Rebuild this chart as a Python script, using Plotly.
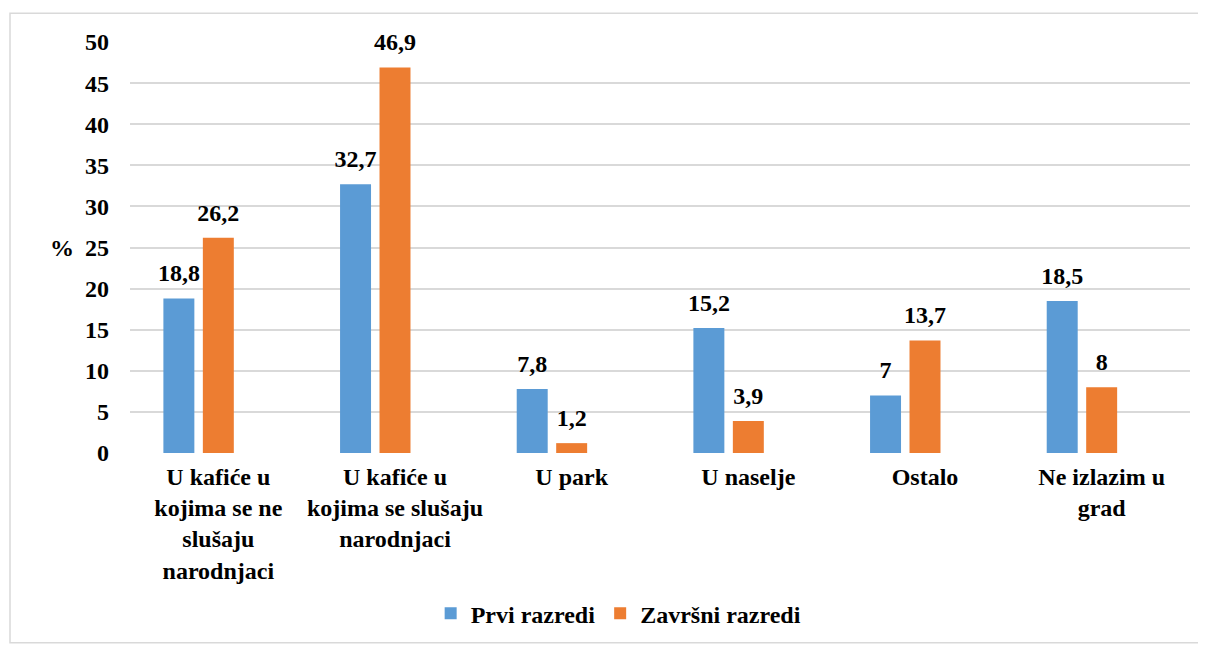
import plotly.graph_objects as go

categories = [
    "U kafiće u<br>kojima se ne<br>slušaju<br>narodnjaci",
    "U kafiće u<br>kojima se slušaju<br>narodnjaci",
    "U park",
    "U naselje",
    "Ostalo",
    "Ne izlazim u<br>grad",
]
prvi = [18.8, 32.7, 7.8, 15.2, 7, 18.5]
zavrsni = [26.2, 46.9, 1.2, 3.9, 13.7, 8]
empty = [0, 0, 0, 0, 0, 0]
y_ticks = [0, 5, 10, 15, 20, 25, 30, 35, 40, 45, 50]

FONT = "Liberation Serif"
BLUE = "#5B9BD5"
ORANGE = "#ED7D31"
TXT = dict(family=FONT, size=24, color="#000000")

def b(s):
    return "<b>" + s.replace("<br>", "</b><br><b>") + "</b>"

def fmt(v):
    return b(str(v).replace(".", ","))

x_idx = list(range(len(categories)))

fig = go.Figure()
series = [("Prvi razredi", prvi, BLUE), ("Završni razredi", zavrsni, ORANGE),
          ("", empty, "rgba(0,0,0,0)")]
for i, (name, vals, col) in enumerate(series):
    fig.add_trace(go.Bar(x=x_idx, y=vals, name=b(name) if name else "", marker_color=col,
                         marker_line_width=0, hoverinfo="skip",
                         offsetgroup=str(i), showlegend=(i < 2)))

# value labels, grouped like the bars
for i, (name, vals, col) in enumerate(series):
    txt = [fmt(v) for v in vals] if i < 2 else ["" for _ in vals]
    fig.add_trace(go.Scatter(
        x=x_idx, y=vals, mode="markers+text", text=txt, textposition="top center",
        textfont=TXT, marker=dict(size=16, color="rgba(0,0,0,0)"),
        offsetgroup=str(i), showlegend=False, hoverinfo="skip", cliponaxis=False,
    ))

fig.update_layout(
    width=1198, height=640,
    margin=dict(l=122, r=16, t=34, b=192),
    paper_bgcolor="white", plot_bgcolor="white",
    barmode="group", bargap=0.33, bargroupgap=0.215,
    scattermode="group", scattergap=0.33,
    showlegend=True,
    legend=dict(
        orientation="h", x=0.461, xanchor="center", y=-0.391, yanchor="middle",
        font=TXT, traceorder="normal",
    ),
)
fig.update_yaxes(
    range=[0, 50], tickvals=y_ticks, ticktext=[b(str(v)) for v in y_ticks],
    showgrid=True, gridcolor="#D9D9D9", gridwidth=1.5,
    zeroline=False, showline=False, ticks="",
    ticklabelstandoff=20, tickfont=TXT,
)
fig.update_xaxes(
    range=[-0.5, len(categories) - 0.5],
    tickvals=x_idx, ticktext=[b(c) for c in categories],
    showgrid=False, zeroline=False, showline=False, ticks="",
    tickangle=0, tickfont=TXT, ticklabelstandoff=7,
)
fig.add_annotation(
    text=b("%"), xref="paper", x=-0.064, xanchor="center", yref="y", y=25,
    showarrow=False, font=TXT,
)
fig.add_shape(
    type="rect", xref="paper", yref="paper",
    x0=-0.1132, x1=1.0142, y0=-0.4614, y1=1.070,
    line=dict(color="#D9D9D9", width=1.5), fillcolor="rgba(0,0,0,0)", layer="below",
)

fig.write_html("out.html")
